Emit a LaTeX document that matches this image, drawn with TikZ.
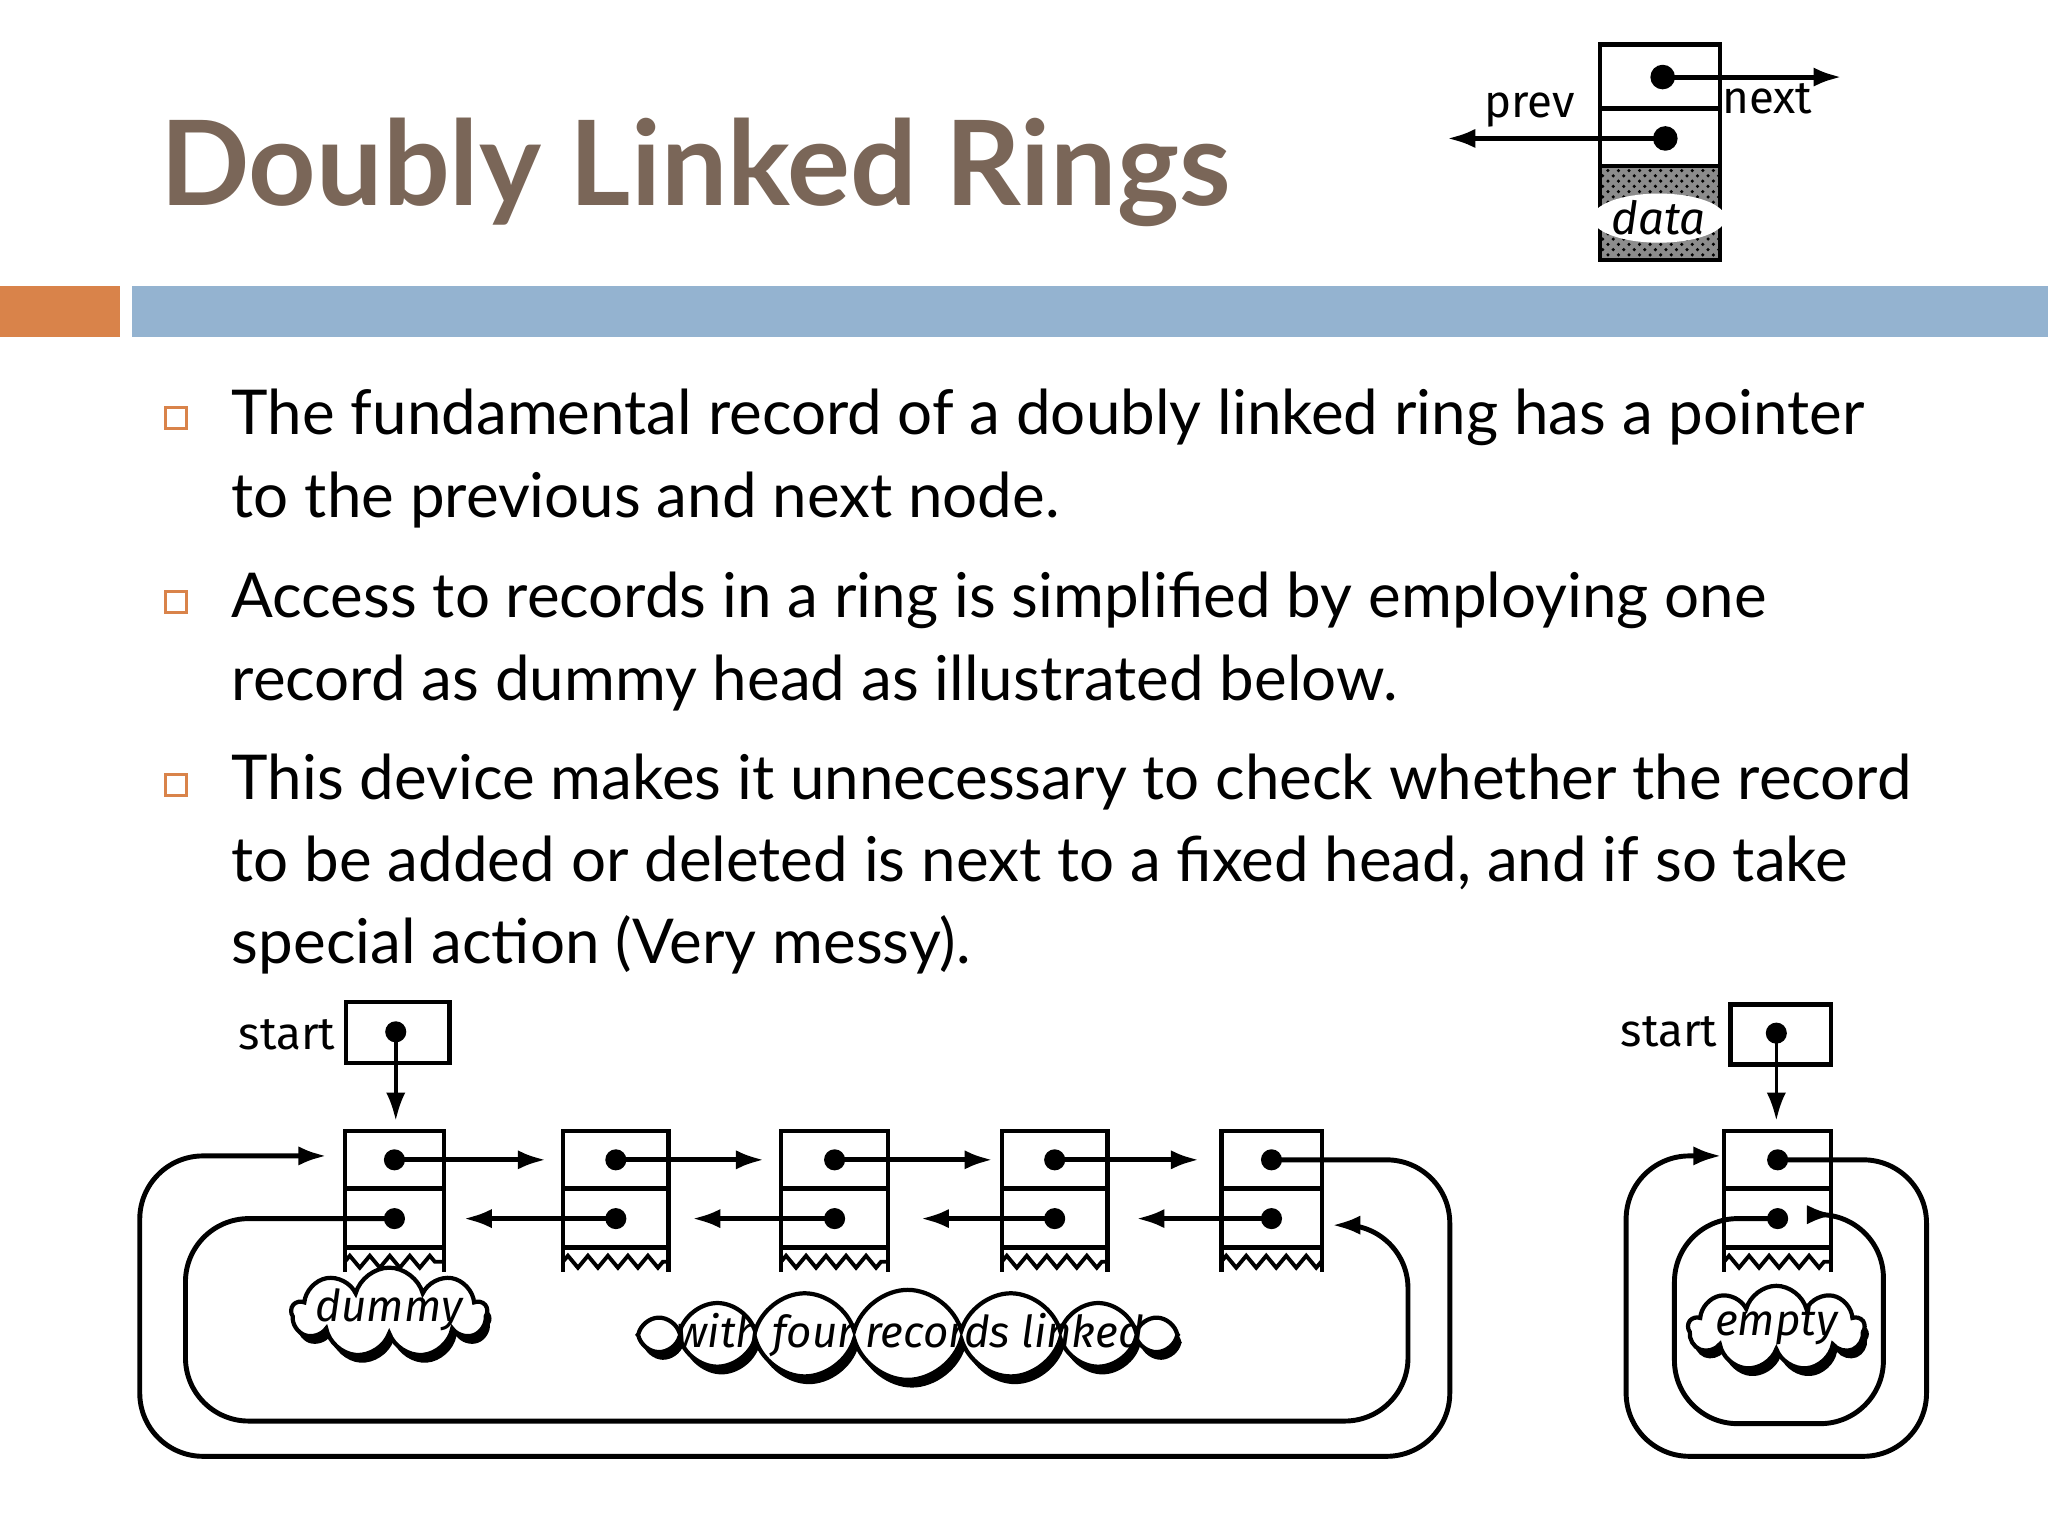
\documentclass[tikz,border=0pt]{standalone}
\usepackage{fontspec}
\setmainfont{Lato}
\newfontfamily\handfont{Fira Sans}
\usetikzlibrary{arrows.meta,shapes.symbols,shapes.geometric,shadows,decorations.pathmorphing,patterns}
\definecolor{titlec}{HTML}{7A6658}
\definecolor{orangec}{HTML}{D9834A}
\definecolor{bluec}{HTML}{94B3D0}
\tikzset{
  tip/.style={-{Latex[length=8pt,width=5.5pt]}},
  ptr/.style={line width=1.4pt},
  boxln/.style={line width=1.3pt},
  body/.style={anchor=base west,inner sep=0pt,font=\fontsize{17.6}{21}\selectfont},
  bul/.style={draw=orangec,line width=0.8pt,minimum size=6pt,inner sep=0pt},
  puff/.style={cloud,draw,line width=1.2pt,fill=white,cloud puffs=#1,inner sep=0pt,
    drop shadow={fill=black,opacity=1,shadow xshift=1.2pt,shadow yshift=-2.2pt}},
  puffl/.style={inner sep=0pt,font=\handfont\itshape\fontsize{12.5}{14}\selectfont},
  lbl/.style={font=\handfont\fontsize{13}{14}\selectfont,inner sep=1pt}
}
\newcommand\myrec[3]{%
  \draw[boxln] (#2,866) rectangle (#3,955);
  \draw[boxln] (#2,910) -- (#3,910);
  \draw[boxln] (#2,955) -- (#2,974) (#3,955) -- (#3,974);
  \draw[line width=1.1pt,decorate,decoration={zigzag,segment length=0.2cm,amplitude=0.06cm}] (#2,966) -- (#3,966);
  \coordinate (#1u) at ({(#2+#3)/2},888);
  \coordinate (#1l) at ({(#2+#3)/2},933);
  \fill (#1u) circle[radius=3pt];
  \fill (#1l) circle[radius=3pt];
}
\begin{document}
\begin{tikzpicture}[x=0.013061cm,y=-0.013061cm]
\useasboundingbox (0,0) rectangle (1568,1176);
% title
\node[anchor=base west,inner sep=0pt,text=titlec,font=\bfseries\fontsize{33.5}{36}\selectfont] (title) at (122,157) {Doubly Linked Rings};
% bars
\fill[orangec] (0,219) rectangle (92,258);
\fill[bluec] (101,219) rectangle (1568,258);
% bullets
\node[bul] (b1) at (135,320) {};
\node[bul] (b2) at (135,461) {};
\node[bul] (b3) at (135,601) {};
\node[body] (t1) at (177,333) {The fundamental record of a doubly linked ring has a pointer};
\node[body] (t2) at (177,396) {to the previous and next node.};
\node[body] (t3) at (177,473) {Access to records in a ring is simplified by employing one};
\node[body] (t4) at (177,536) {record as dummy head as illustrated below.};
\node[body] (t5) at (177,612) {This device makes it unnecessary to check whether the record};
\node[body] (t6) at (177,675) {to be added or deleted is next to a fixed head, and if so take};
\node[body] (t7) at (177,738) {special action (Very messy).};
% top-right record
\fill[black!45] (1225,127) rectangle (1317,199);
\fill[pattern=crosshatch dots] (1225,127) rectangle (1317,199);
\draw[boxln] (1225,34) rectangle (1317,199);
\draw[boxln] (1225,83) -- (1317,83) (1225,127) -- (1317,127);
\node[ellipse,fill=white,inner sep=0pt,minimum width=0.95cm,minimum height=0.42cm,font=\handfont\itshape\fontsize{13}{14}\selectfont] (data) at (1270,167) {data};
\coordinate (nd) at (1273,59);
\coordinate (pd) at (1275,106);
\coordinate (ne) at (1410,59);
\coordinate (pe) at (1108,106);
\fill (nd) circle[radius=3.5pt];
\fill (pd) circle[radius=3.5pt];
\draw[ptr,tip] (nd) -- (ne);
\draw[ptr,tip] (pd) -- (pe);
\node[lbl] (nextl) at (1353,76) {next};
\node[lbl] (prevl) at (1171,84) {prev};
% left diagram
\node[lbl,anchor=east] (st1) at (260,792) {start};
\draw[boxln] (265,767) rectangle (344,814);
\coordinate (s1) at (303,790);
\fill (s1) circle[radius=3pt];
\coordinate (s1e) at (303,858);
\draw[line width=1pt,tip] (s1) -- (s1e);
\myrec{r1}{264}{340}
\myrec{r2}{431}{512}
\myrec{r3}{598}{680}
\myrec{r4}{767}{848}
\myrec{r5}{935}{1012}
\foreach \a/\e in {r1/418,r2/585,r3/760,r4/918}{
  \coordinate (\a ne) at (\e,888);
  \draw[ptr,tip] (\a u) -- (\a ne);
}
\foreach \a/\e in {r2/355,r3/530,r4/705,r5/870}{
  \coordinate (\a pe) at (\e,933);
  \draw[ptr,tip] (\a l) -- (\a pe);
}
\coordinate (o1) at (250,885);
\draw[ptr,tip,rounded corners=18pt] (r5u) -- (1110,888) -- (1110,1115) -- (107,1115) -- (107,885) -- (o1);
\coordinate (i1) at (1020,938);
\draw[ptr,tip,rounded corners=18pt] (r1l) -- (142,933) -- (142,1088) -- (1078,1088) -- (1078,938) -- (i1);
\node[puff=9,aspect=2.1,minimum width=1.95cm,minimum height=0.9cm] (dummy) at (298,1005) {};
\node[puffl] (dummyl) at (298,1003) {dummy};
\node[puff=16,aspect=6,minimum width=5.4cm,minimum height=0.9cm] (four) at (695,1022) {};
\node[puffl] (fourl) at (697,1022) {with four records linked};
% right diagram
\node[lbl,anchor=east] (st2) at (1318,790) {start};
\draw[boxln] (1325,769) rectangle (1402,815);
\coordinate (s2) at (1360,791);
\fill (s2) circle[radius=3pt];
\coordinate (s2e) at (1360,858);
\draw[line width=1pt,tip] (s2) -- (s2e);
\myrec{e}{1320}{1402}
\coordinate (o2) at (1318,885);
\draw[ptr,tip,rounded corners=18pt] (eu) -- (1475,888) -- (1475,1115) -- (1245,1115) -- (1245,885) -- (o2);
\coordinate (i2) at (1405,930);
\draw[ptr,tip,rounded corners=18pt] (el) -- (1282,933) -- (1282,1090) -- (1442,1090) -- (1442,930) -- (i2);
\node[puff=9,aspect=2.1,minimum width=1.76cm,minimum height=0.85cm] (empty) at (1360,1017) {};
\node[puffl] (emptyl) at (1360,1015) {empty};
\end{tikzpicture}
\end{document}
